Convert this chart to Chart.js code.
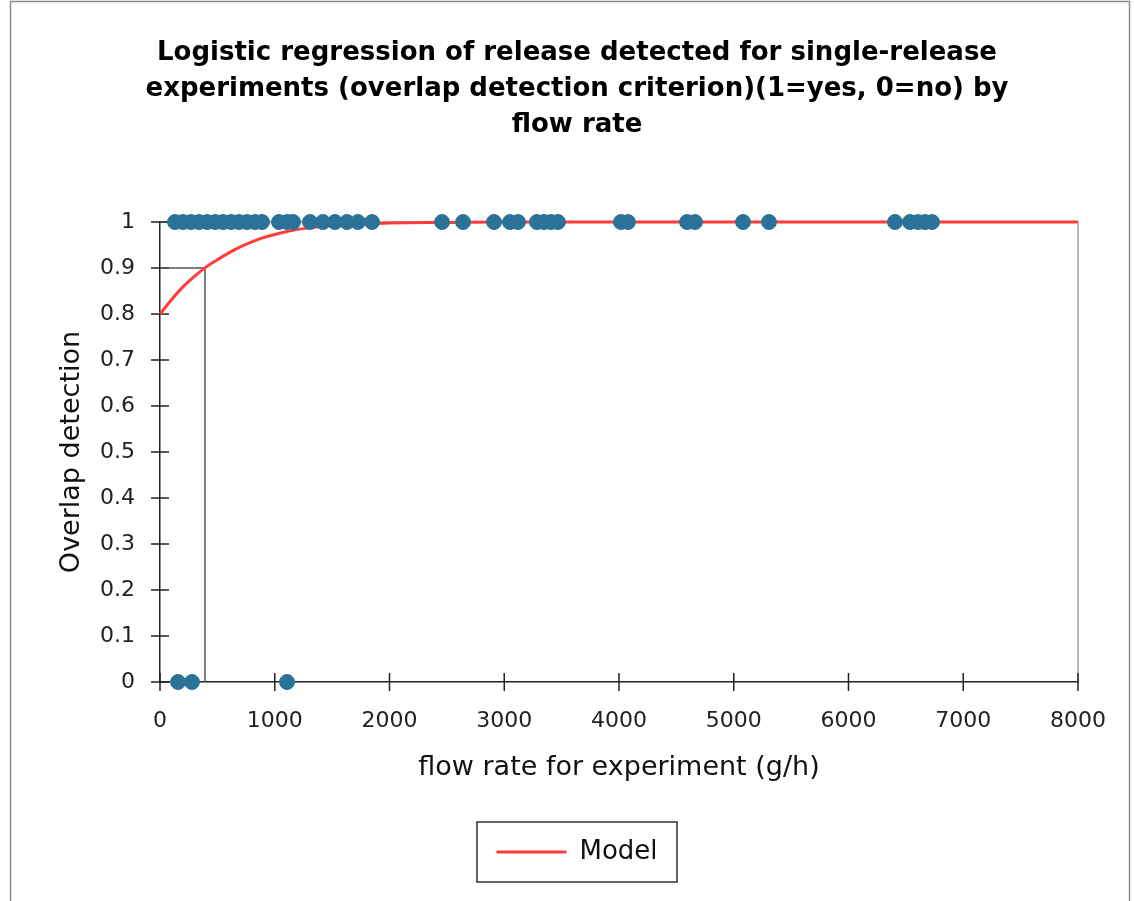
<!DOCTYPE html>
<html>
<head>
<meta charset="utf-8">
<script src="https://cdn.jsdelivr.net/npm/chart.js@4.4.1/dist/chart.umd.min.js"></script>
<style>
	html, body { margin: 0; padding: 0; background: #fff; }
	#wrap { width: 1134px; height: 901px; position: relative; }
</style>
</head>
<body>
<div id="wrap"><canvas id="chart"></canvas></div>
<script>
// эксперименты, где выброс обнаружен (1)
const detectedFlow = [131, 200, 270, 340, 410, 480, 549, 619, 688, 758, 828, 889,
	1037, 1107, 1159, 1307, 1420, 1525, 1630, 1725, 1848, 2458, 2641, 2911, 3050,
	3120, 3285, 3346, 3407, 3468, 4017, 4078, 4593, 4662, 5081, 5307, 6405, 6536,
	6606, 6667, 6728];
// не обнаружен (0)
const missedFlow = [157, 279, 1107];
// кривая модели
const modelFlow = [0, 100, 200, 300, 400, 500, 600, 700, 800, 900, 1000, 1100, 1200,
	1400, 1600, 1800, 2000, 2500, 3000, 8000];
const modelProb = [0.8, 0.831, 0.859, 0.882, 0.902, 0.918, 0.933, 0.946, 0.957, 0.966,
	0.973, 0.979, 0.984, 0.99, 0.994, 0.996, 0.998, 0.999, 1, 1];
// вспомогательная линия на уровне 0.9
const guideFlow = [0, 392, 392];
const guideProb = [0.9, 0.9, 0];
const xTickLabels = ['0', '1000', '2000', '3000', '4000', '5000', '6000', '7000', '8000'];
const yTickLabels = ['0', '0.1', '0.2', '0.3', '0.4', '0.5', '0.6', '0.7', '0.8', '0.9', '1'];

const FONT = "'DejaVu Sans', Verdana, sans-serif";
const toPoints = (xs, ys) => xs.map((v, i) => ({ x: v, y: typeof ys === 'number' ? ys : ys[i] }));

// засечки поперёк осей и серая рамка сверху/справа
const axisTicks = {
	id: 'axisTicks',
	beforeDatasetsDraw(chart) {
		const { ctx, chartArea: { left, right, top, bottom }, scales: { x, y } } = chart;
		ctx.save();
		ctx.strokeStyle = '#a0a0a0';
		ctx.lineWidth = 1.5;
		ctx.beginPath();
		ctx.moveTo(left, top);
		ctx.lineTo(right, top);
		ctx.lineTo(right, bottom);
		ctx.stroke();
		ctx.strokeStyle = '#222';
		ctx.beginPath();
		x.ticks.forEach((t) => {
			const px = x.getPixelForValue(t.value);
			ctx.moveTo(px, bottom - 9);
			ctx.lineTo(px, bottom + 9);
		});
		y.ticks.forEach((t) => {
			const py = y.getPixelForValue(t.value);
			ctx.moveTo(left - 9, py);
			ctx.lineTo(left + 9, py);
		});
		ctx.stroke();
		ctx.restore();
	},
};

// рамка легенды и внешняя рамка картинки
const frames = {
	id: 'frames',
	afterDraw(chart) {
		const { ctx } = chart;
		ctx.save();
		ctx.strokeStyle = '#8c8c8c';
		ctx.lineWidth = 1.5;
		ctx.strokeRect(10.5, 1.5, 1119, 950);
		const hb = chart.legend.legendHitBoxes[0];
		if (hb) {
			const cx = hb.left + hb.width / 2;
			const cy = hb.top + hb.height / 2;
			ctx.strokeStyle = '#333';
			ctx.strokeRect(cx - 100, cy - 30, 200, 60);
		}
		ctx.restore();
	},
};

new Chart(document.getElementById('chart'), {
	type: 'scatter',
	data: {
		datasets: [
			{
				label: 'Detected',
				data: toPoints(detectedFlow, 1),
				backgroundColor: '#2a7298',
				borderColor: '#2a7298',
				pointRadius: 7.5,
				pointHoverRadius: 7.5,
				clip: false,
			},
			{
				label: 'Not detected',
				data: toPoints(missedFlow, 0),
				backgroundColor: '#2a7298',
				borderColor: '#2a7298',
				pointRadius: 7.5,
				pointHoverRadius: 7.5,
				clip: false,
			},
			{
				label: 'Model',
				data: toPoints(modelFlow, modelProb),
				showLine: true,
				borderColor: '#ff3c3c',
				backgroundColor: '#ff3c3c',
				borderWidth: 3,
				pointRadius: 0,
				cubicInterpolationMode: 'monotone',
				clip: false,
			},
			{
				label: 'Guide',
				data: toPoints(guideFlow, guideProb),
				showLine: true,
				borderColor: '#555',
				borderWidth: 1.5,
				pointRadius: 0,
			},
		],
	},
	options: {
		responsive: true,
		maintainAspectRatio: false,
		animation: false,
		layout: { padding: { left: 20, right: 0, top: 0, bottom: 26 } },
		plugins: {
			tooltip: { enabled: false },
			title: {
				display: true,
				text: [
					'Logistic regression of release detected for single-release',
					'experiments (overlap detection criterion)(1=yes, 0=no) by',
					'flow rate',
				],
				color: '#000',
				font: { family: FONT, size: 26, weight: 'bold', lineHeight: 1.385 },
				padding: { top: 35, bottom: 79 },
			},
			legend: {
				position: 'bottom',
				labels: {
					filter: (item) => item.text === 'Model',
					usePointStyle: true,
					pointStyle: 'line',
					pointStyleWidth: 70,
					color: '#111',
					padding: 52,
					font: { family: FONT, size: 26 },
				},
			},
		},
		scales: {
			x: {
				type: 'linear',
				min: 0,
				max: 8000,
				grid: { display: false, drawTicks: false },
				border: { display: true, color: '#222', width: 1.5 },
				afterFit: (scale) => { scale.height = 105; },
				ticks: {
					stepSize: 1000,
					padding: 26,
					color: '#222',
					font: { family: FONT, size: 22 },
					callback: (v, i) => xTickLabels[i],
				},
				title: {
					display: true,
					text: 'flow rate for experiment (g/h)',
					color: '#111',
					font: { family: FONT, size: 27 },
					padding: { top: 0, bottom: 3 },
				},
			},
			y: {
				type: 'linear',
				min: 0,
				max: 1,
				grid: { display: false, drawTicks: false },
				border: { display: true, color: '#222', width: 1.5 },
				afterFit: (scale) => { scale.width = 140; },
				ticks: {
					stepSize: 0.1,
					padding: 25,
					color: '#222',
					font: { family: FONT, size: 22 },
					callback: (v, i) => yTickLabels[i],
				},
				title: {
					display: true,
					text: 'Overlap detection',
					color: '#111',
					font: { family: FONT, size: 27 },
					padding: { top: 36, bottom: 0 },
				},
			},
			// пустая ось справа, чтобы задать отступ области графика
			yr: {
				position: 'right',
				display: true,
				grid: { display: false, drawTicks: false },
				border: { display: false },
				ticks: { display: false },
				afterFit: (scale) => { scale.width = 56; },
			},
		},
	},
	plugins: [axisTicks, frames],
});
</script>
</body>
</html>
